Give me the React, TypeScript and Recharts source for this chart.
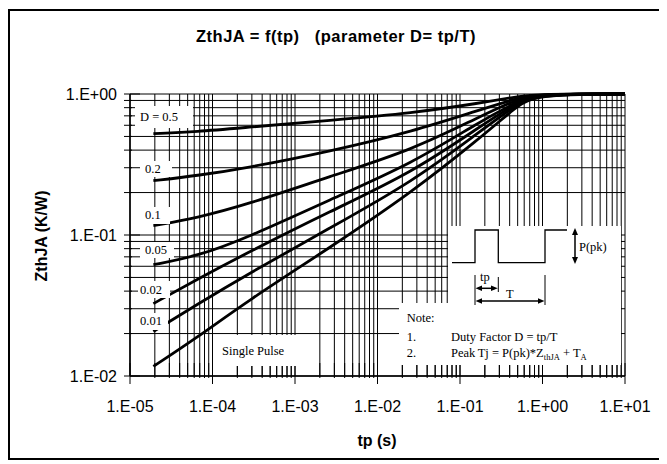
import React from "react"
import { LineChart, Line, XAxis, YAxis, CartesianGrid } from "recharts"

// pulse duration tp (s)
const TP = [1.92e-5, 6.4e-5, 2.6e-4, 2.65e-3, 2.7e-2, 0.175, 0.44, 0.77, 10]

// ZthJA (K/W) per duty factor
const D05 = [0.523, 0.54, 0.58, 0.65, 0.733, 0.863, 0.946, 1.0, 1.0]
const D02 = [0.2427, 0.2634, 0.2986, 0.3917, 0.543, 0.774, 0.911, 1.0, 1.0]
const D01 = [0.1164, 0.132, 0.164, 0.2603, 0.4027, 0.694, 0.886, 1.0, 1.0]
const D005 = [0.0616, 0.0705, 0.0952, 0.178, 0.324, 0.639, 0.849, 1.0, 1.0]
const D002 = [0.0326, 0.0482, 0.0745, 0.147, 0.28, 0.589, 0.83, 1.0, 1.0]
const D001 = [0.0207, 0.032, 0.0523, 0.1121, 0.24, 0.543, 0.804, 1.0, 1.0]
const SINGLE = [0.0117, 0.0186, 0.0338, 0.0813, 0.2038, 0.4875, 0.774, 1.0, 1.0]

const SERIES = ["d05", "d02", "d01", "d005", "d002", "d001", "single"]

const X_DECADES = [1e-5, 1e-4, 1e-3, 1e-2, 1e-1, 1, 10]
const X_LABELS = ["1.E-05", "1.E-04", "1.E-03", "1.E-02", "1.E-01", "1.E+00", "1.E+01"]
const Y_DECADES = [0.01, 0.1, 1]
const Y_LABELS = ["1.E-02", "1.E-01", "1.E+00"]
const MINOR = [1, 2, 3, 4, 5, 6, 7, 8, 9]

const logTicks = (decades: number[]) => {
  const out: number[] = []
  decades.forEach((d, i) => {
    if (i === decades.length - 1) out.push(d)
    else MINOR.forEach((m) => out.push(+(m * d).toPrecision(6)))
  })
  return out
}

const X_TICKS = logTicks(X_DECADES)
const Y_TICKS = logTicks(Y_DECADES)

const rows = TP.map((tp, i) => ({
  tp,
  d05: D05[i],
  d02: D02[i],
  d01: D01[i],
  d005: D005[i],
  d002: D002[i],
  d001: D001[i],
  single: SINGLE[i],
}))

const SANS = "'Liberation Sans', Arial, sans-serif"
const SERIF = "'Liberation Serif', 'Times New Roman', serif"

const decadeIndex = (v: number, decades: number[]) =>
  decades.findIndex((d) => Math.abs(d - v) / d < 1e-6)

const XTick = ({ x, y, payload }: any) => {
  const idx = decadeIndex(payload.value, X_DECADES)
  return (
    <g>
      <line x1={x} x2={x} y1={y - 13} y2={y + (idx >= 0 ? 8 : 2)} stroke="#000" strokeWidth={1} />
      {idx >= 0 && (
        <text x={x} y={y + 30} dy="0.35em" textAnchor="middle" fontFamily={SANS} fontSize={16} fill="#000">
          {X_LABELS[idx]}
        </text>
      )}
    </g>
  )
}

const YTick = ({ x, y, payload }: any) => {
  const idx = decadeIndex(payload.value, Y_DECADES)
  return (
    <g>
      <line x1={x - 6} x2={x + (idx >= 0 ? 10 : 2)} y1={y} y2={y} stroke="#000" strokeWidth={1} />
      {idx >= 0 && (
        <text x={x - 13} y={y} dy="0.35em" textAnchor="end" fontFamily={SANS} fontSize={16} fill="#000">
          {Y_LABELS[idx]}
        </text>
      )}
    </g>
  )
}

const Box = ({ x, y, w, h }: { x: number; y: number; w: number; h: number }) => (
  <rect x={x} y={y} width={w} height={h} fill="#fff" />
)

function Annotations() {
  const t = { fontFamily: SERIF, fontSize: 12.5, fill: "#000" } as const
  return (
    <svg
      width={667}
      height={464}
      style={{ position: "absolute", left: -8, top: -8, pointerEvents: "none" }}
    >
      {/* title and axis names */}
      <text
        x={336}
        y={41.7}
        textAnchor="middle"
        fontFamily={SANS}
        fontWeight="bold"
        fontSize={16.5}
        letterSpacing={0.5}
        style={{ whiteSpace: "pre" }}
      >
        {"ZthJA = f(tp)   (parameter D= tp/T)"}
      </text>
      <text
        x={41}
        y={236}
        dy="0.35em"
        textAnchor="middle"
        fontFamily={SANS}
        fontWeight="bold"
        fontSize={16}
        transform="rotate(-90 41 236)"
      >
        ZthJA (K/W)
      </text>
      <text x={377} y={440} dy="0.35em" textAnchor="middle" fontFamily={SANS} fontWeight="bold" fontSize={16}>
        tp (s)
      </text>

      {/* curve labels */}
      <Box x={135} y={106} w={58} h={22} />
      <text {...t} x={140} y={117} dy="0.35em">D = 0.5</text>
      <Box x={140} y={161} w={32} h={16} />
      <text {...t} x={145} y={169} dy="0.35em">0.2</text>
      <Box x={140} y={207} w={30} h={17} />
      <text {...t} x={145} y={215} dy="0.35em">0.1</text>
      <Box x={140} y={242} w={34} h={16} />
      <text {...t} x={145} y={250} dy="0.35em">0.05</text>
      <Box x={138} y={281} w={32} h={17} />
      <text {...t} x={140} y={290} dy="0.35em">0.02</text>
      <Box x={138} y={313} w={30} h={17} />
      <text {...t} x={140} y={321} dy="0.35em">0.01</text>
      <Box x={213} y={335} w={84} h={31} />
      <text {...t} x={222} y={351} dy="0.35em">Single Pulse</text>

      {/* note and waveform */}
      <Box x={448} y={226} w={173} h={80} />
      <Box x={399} y={303} w={222} h={62} />
      <polyline
        points="452,262.7 475,262.7 475,230 498.3,230 498.3,262.7 545,262.7 545,230 567,230"
        fill="none"
        stroke="#000"
        strokeWidth={1.3}
      />
      <line x1={575} x2={575} y1={232} y2={260} stroke="#000" strokeWidth={1.5} />
      <polygon points="575,228 572,235 578,235" fill="#000" />
      <polygon points="575,264 572,257 578,257" fill="#000" />
      <text {...t} x={579} y={247} dy="0.35em">P(pk)</text>

      <line x1={475} x2={475} y1={275} y2={305} stroke="#000" strokeWidth={1} />
      <line x1={498.3} x2={498.3} y1={277} y2={292} stroke="#000" strokeWidth={1} />
      <line x1={545} x2={545} y1={275} y2={305} stroke="#000" strokeWidth={1} />
      <line x1={478} x2={495} y1={288.3} y2={288.3} stroke="#000" strokeWidth={1.5} />
      <polygon points="475.5,288.3 482,285.5 482,291.1" fill="#000" />
      <polygon points="497.8,288.3 491,285.5 491,291.1" fill="#000" />
      <line x1={478} x2={542} y1={301} y2={301} stroke="#000" strokeWidth={1.5} />
      <polygon points="475.5,301 482,298.2 482,303.8" fill="#000" />
      <polygon points="544.5,301 538,298.2 538,303.8" fill="#000" />
      <text {...t} x={480} y={277} dy="0.35em">tp</text>
      <text {...t} x={506} y={294} dy="0.35em">T</text>

      <text {...t} x={406.7} y={318} dy="0.35em">Note:</text>
      <text {...t} x={406.7} y={336.7} dy="0.35em">1.</text>
      <text {...t} x={451} y={336.7} dy="0.35em">Duty Factor</text>
      <text {...t} x={514.3} y={336.7} dy="0.35em">D = tp/T</text>
      <text {...t} x={406.7} y={352.7} dy="0.35em">2.</text>
      <text {...t} x={451} y={352.7} dy="0.35em">Peak</text>
      <text {...t} x={477.7} y={352.7} dy="0.35em">
        Tj = P(pk)*Z
        <tspan dy={3} fontSize={8.5}>thJA</tspan>
        <tspan dy={-3}> + T</tspan>
        <tspan dy={3} fontSize={8.5}>A</tspan>
      </text>
    </svg>
  )
}

export default function App() {
  return (
    <div style={{ position: "relative", width: 659, height: 456 }}>
      <div
        style={{
          position: "absolute",
          left: 0,
          top: 1,
          width: 652,
          height: 447,
          border: "2px solid #000",
        }}
      />
      <div style={{ position: "absolute", left: 0, top: 0 }}>
        <LineChart width={659} height={456} data={rows} margin={{ top: 86, right: 42, bottom: 0, left: 0 }}>
          <CartesianGrid stroke="#000" strokeWidth={1} />
          <XAxis
            dataKey="tp"
            type="number"
            scale="log"
            domain={[1e-5, 10]}
            ticks={X_TICKS}
            interval={0}
            height={88}
            tickSize={0}
            tickMargin={0}
            tickLine={false}
            tick={<XTick />}
            axisLine={{ stroke: "#000", strokeWidth: 1.5 }}
          />
          <YAxis
            type="number"
            scale="log"
            domain={[0.01, 1]}
            ticks={Y_TICKS}
            interval={0}
            width={122}
            tickSize={0}
            tickMargin={0}
            tickLine={false}
            tick={<YTick />}
            axisLine={{ stroke: "#000", strokeWidth: 1.5 }}
          />
          {SERIES.map((k) => (
            <Line
              key={k}
              dataKey={k}
              type="basis"
              stroke="#000"
              strokeWidth={2.8}
              dot={false}
              isAnimationActive={false}
            />
          ))}
        </LineChart>
      </div>
      <Annotations />
    </div>
  )
}
